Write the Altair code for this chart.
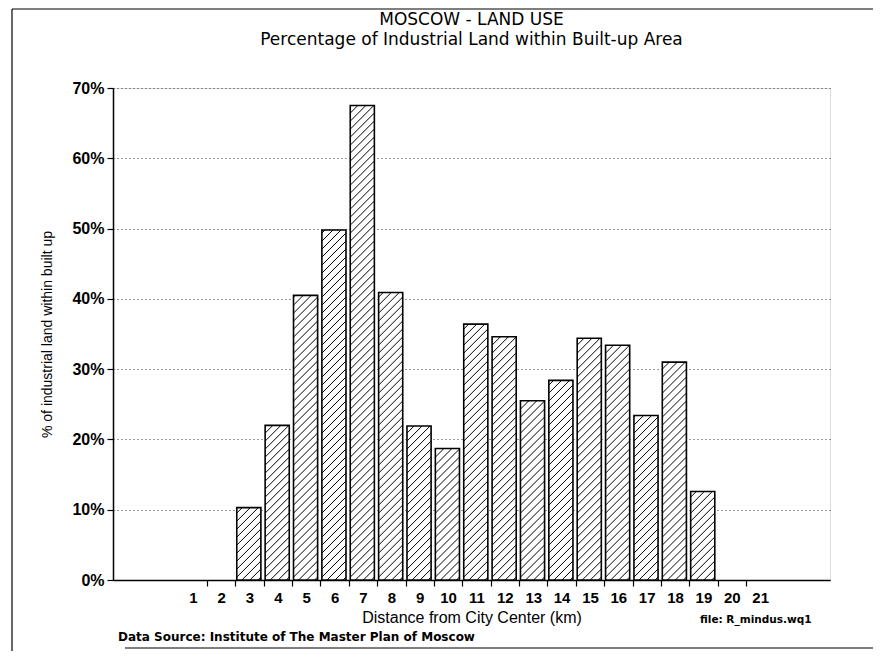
import altair as alt
import pandas as pd

# ---- values ----
distance_km = list(range(1, 22))
industrial_pct = [0, 0, 10.3, 22.0, 40.5, 49.8, 67.5, 40.9, 21.9, 18.7,
                  36.4, 34.6, 25.5, 28.4, 34.4, 33.4, 23.4, 31.0, 12.6, 0, 0]
y_tick_values = [0, 10, 20, 30, 40, 50, 60, 70]
x_label_values = distance_km
x_tick_values = [k + 0.5 for k in range(1, 21)]

title_main = ["MOSCOW - LAND USE"]
title_sub = ["Percentage of Industrial Land within Built-up Area"]
y_title = "% of industrial land within built up"
x_title = "Distance from City Center (km)"
source_note = ["Data Source:  Institute of The Master Plan of Moscow"]
file_note = ["file: R_mindus.wq1"]

# ---- layout / style ----
PLOT_W, PLOT_H = 717, 492
X_DOMAIN = [-1.813, 23.461]
Y_DOMAIN = [0, 70]
BAR_LEFT, BAR_RIGHT = -0.45, 0.40
SX = PLOT_W / (X_DOMAIN[1] - X_DOMAIN[0])
SY = PLOT_H / (Y_DOMAIN[1] - Y_DOMAIN[0])
BAR_W_PX = (BAR_RIGHT - BAR_LEFT) * SX
HATCH_STEP = 8
FONT = "Liberation Sans"
WIDE = "DejaVu Sans"

df = pd.DataFrame({"km": distance_km, "pct": industrial_pct})
xs = alt.Scale(domain=X_DOMAIN, nice=False, zero=False)
ys = alt.Scale(domain=Y_DOMAIN, nice=False, zero=True)

base = alt.Chart(df).transform_filter("datum.pct > 0").transform_calculate(
    x0=f"datum.km + ({BAR_LEFT})", x1=f"datum.km + {BAR_RIGHT}"
)

x_label_axis = alt.Axis(
    values=x_label_values, ticks=False, tickSize=0, labelPadding=10,
    domain=True, domainColor="black", domainWidth=1.5, grid=False,
    labelFont=FONT, labelFontSize=15, labelFontWeight="bold", labelColor="black",
    labelFlush=False, labelOverlap=False,
    title=x_title, titleFont=FONT, titleFontSize=16, titleFontWeight="normal",
    titleColor="black", titleBaseline="middle", titleY=37, orient="bottom",
)
x_tick_axis = alt.Axis(
    values=x_tick_values, labels=False, ticks=True, tickSize=6, tickColor="black",
    tickWidth=1.2, domain=False, grid=False, title=None, orient="bottom",
)
y_axis = alt.Axis(
    values=y_tick_values, labelExpr="datum.value + '%'", tickSize=6, tickColor="black",
    tickWidth=1.2, labelPadding=3, domain=True, domainColor="black", domainWidth=1.5,
    labelFont=FONT, labelFontSize=16, labelFontWeight="bold", labelColor="black",
    grid=True, gridDash=[1, 3], gridColor="#333333", gridWidth=1,
    title=y_title, titleFont=FONT, titleFontSize=14, titleFontWeight="normal",
    titleColor="black", titleBaseline="middle", titleX=-66, orient="left",
)

bars = base.mark_rect(fill="white", stroke="black", strokeWidth=1.6).encode(
    x=alt.X("x0:Q", scale=xs, axis=x_label_axis),
    x2="x1:Q",
    y=alt.Y("pct:Q", scale=ys, axis=y_axis),
    y2=alt.datum(0),
)

hatch = (
    base.transform_calculate(hpx=f"datum.pct * {SY}")
    .transform_calculate(cs=f"sequence({-BAR_W_PX + 3}, datum.hpx, {HATCH_STEP})")
    .transform_flatten(["cs"])
    .transform_calculate(
        xs0="max(0, -datum.cs)",
        xe0=f"min({BAR_W_PX}, datum.hpx - datum.cs)",
    )
    .transform_filter("datum.xe0 > datum.xs0 + 1")
    .transform_calculate(
        hx0=f"datum.x0 + datum.xs0 / {SX}",
        hx1=f"datum.x0 + datum.xe0 / {SX}",
        hy0=f"(datum.xs0 + datum.cs) / {SY}",
        hy1=f"(datum.xe0 + datum.cs) / {SY}",
    )
    .mark_rule(stroke="black", strokeWidth=1)
    .encode(
        x=alt.X("hx0:Q", scale=xs, axis=x_tick_axis),
        x2="hx1:Q",
        y=alt.Y("hy0:Q", scale=ys, axis=None),
        y2="hy1:Q",
    )
)


def note(lines, font, size, weight, align, x, y):
    return alt.Chart(pd.DataFrame({"t": lines})).mark_text(
        align=align, baseline="middle", font=font, fontSize=size,
        fontWeight=weight, color="black"
    ).encode(text="t:N", x=alt.value(x), y=alt.value(y))


t1 = note(title_main, WIDE, 17, "normal", "center", PLOT_W / 2, -68)
t2 = note(title_sub, WIDE, 17, "normal", "center", PLOT_W / 2, -48)
src = note(source_note, WIDE, 12, "bold", "left", 5, PLOT_H + 57)
fil = note(file_note, WIDE, 10.5, "bold", "left", 587, PLOT_H + 40)

# page frame lines visible in the scanned reference
one = pd.DataFrame({"k": [0]})
frame_top = alt.Chart(one).mark_rule(color="black", strokeWidth=1.2).encode(
    x=alt.value(-101), x2=alt.value(PLOT_W + 43), y=alt.value(-79))
frame_left = alt.Chart(one).mark_rule(color="black", strokeWidth=1.2).encode(
    x=alt.value(-101), y=alt.value(-79), y2=alt.value(PLOT_H + 71))
frame_bottom = alt.Chart(one).mark_rule(color="black", strokeWidth=1.2).encode(
    x=alt.value(12), x2=alt.value(PLOT_W + 43), y=alt.value(PLOT_H + 68))

chart = (
    alt.layer(bars, hatch, t1, t2, src, fil, frame_top, frame_left, frame_bottom)
    .resolve_axis(x="independent", y="independent")
    .properties(
        width=PLOT_W,
        height=PLOT_H,
        autosize=alt.AutoSizeParams(type="none"),
        padding={"left": 105, "top": 80, "right": 43, "bottom": 71},
    )
    .configure_view(stroke="black", strokeWidth=1.5)
    .configure(background="white")
)

chart.save("out.html", embed_options={"renderer": "svg", "actions": False})
